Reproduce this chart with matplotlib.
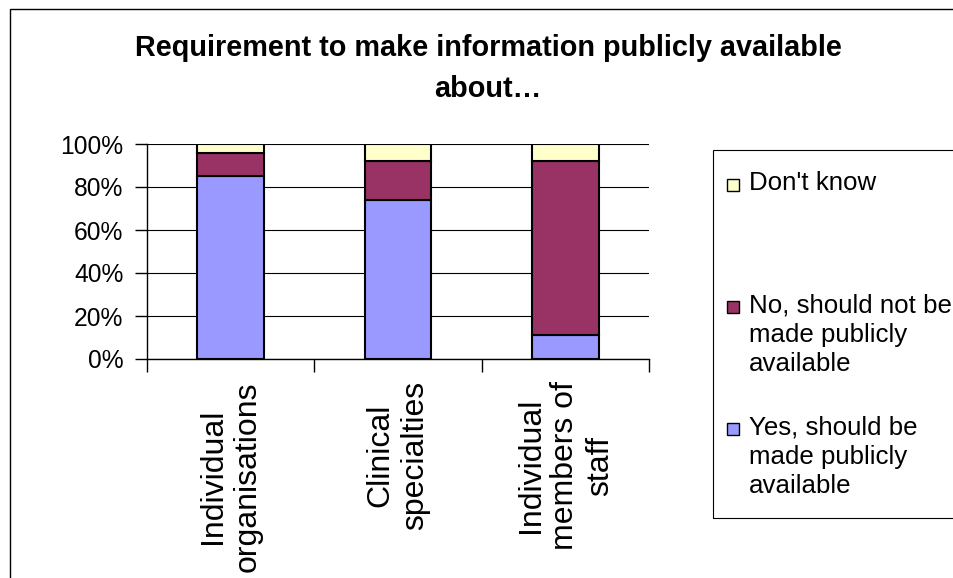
import numpy as np
import matplotlib.pyplot as plt
from matplotlib.patches import Rectangle

# data (percent of respondents)
categories = ['Individual\norganisations', 'Clinical\nspecialties',
              'Individual\nmembers of\nstaff']
yes_vals = [85, 74, 11]
no_vals = [11, 18, 81]
dk_vals = [4, 8, 8]

series_names = ['Yes, should be\nmade publicly\navailable',
                'No, should not be\nmade publicly\navailable',
                "Don't know"]
series_colours = ['#9999FF', '#993366', '#FFFFCC']

plt.rcParams['font.family'] = ['Liberation Sans', 'DejaVu Sans']

W, H = 954, 578
fig = plt.figure(figsize=(W / 100, H / 100), dpi=100)

# plot area in pixel terms of the original picture
ax = fig.add_axes([147 / W, 1 - 359 / H, (649 - 147) / W, (359 - 144) / H])

x = np.arange(len(categories))
bottom = np.zeros(len(categories))
for vals, col in zip([yes_vals, no_vals, dk_vals], series_colours):
    ax.bar(x, vals, 0.4, bottom=bottom, color=col, edgecolor='black',
           linewidth=1.5, zorder=3)
    bottom += np.array(vals)

ax.set_ylim(0, 100)
ax.set_xlim(-0.5, len(categories) - 0.5)
ax.set_yticks(np.arange(0, 101, 20))
ax.set_yticklabels(['%d%%' % v for v in range(0, 101, 20)], fontsize=17.7)
ax.tick_params(axis='y', length=9, width=1, pad=8, direction='out')
ax.yaxis.grid(True, color='black', linewidth=0.8, zorder=0)

# category boundaries get the tick marks, labels sit in the middle
ax.set_xticks(np.arange(-0.5, len(categories), 1))
ax.set_xticklabels([])
ax.set_xticks(x, categories, minor=True)
ax.tick_params(axis='x', which='major', length=9, width=1, direction='out')
ax.tick_params(axis='x', which='minor', length=0, pad=16, labelsize=23,
               labelrotation=90)

for s in ['top', 'right']:
    ax.spines[s].set_visible(False)
for s in ['left', 'bottom']:
    ax.spines[s].set_color('black')
    ax.spines[s].set_linewidth(1)

# title, two lines with Excel's wide line gap
tfont = {'fontsize': 20.8, 'fontweight': 'bold', 'ha': 'center', 'va': 'baseline'}
fig.text(488 / W, 1 - 56 / H,
         'Requirement to make information publicly available', **tfont)
fig.text(488 / W, 1 - 97 / H, 'about\u2026', **tfont)

# legend box (runs off the right edge like the original)
fig.add_artist(Rectangle((713 / W, 1 - 518 / H), (990 - 713) / W, (518 - 150) / H,
                         transform=fig.transFigure, fill=False,
                         edgecolor='black', linewidth=0.8, clip_on=False))
legend_tops = [415, 293, 171]
for name, col, top in zip(series_names, series_colours, legend_tops):
    fig.add_artist(Rectangle((727 / W, 1 - (top + 20) / H), 12 / W, 12 / H,
                             transform=fig.transFigure, facecolor=col,
                             edgecolor='black', linewidth=1))
    fig.text(749 / W, 1 - top / H, name, ha='left', va='top',
             fontsize=18.6, linespacing=1.3)

# outer chart frame
fig.add_artist(Rectangle((10 / W, -0.1), 1.2, 1 - 9 / H + 0.1,
                         transform=fig.transFigure, fill=False,
                         edgecolor='black', linewidth=1, clip_on=False))

plt.savefig('out.png', dpi=100)
plt.close()
